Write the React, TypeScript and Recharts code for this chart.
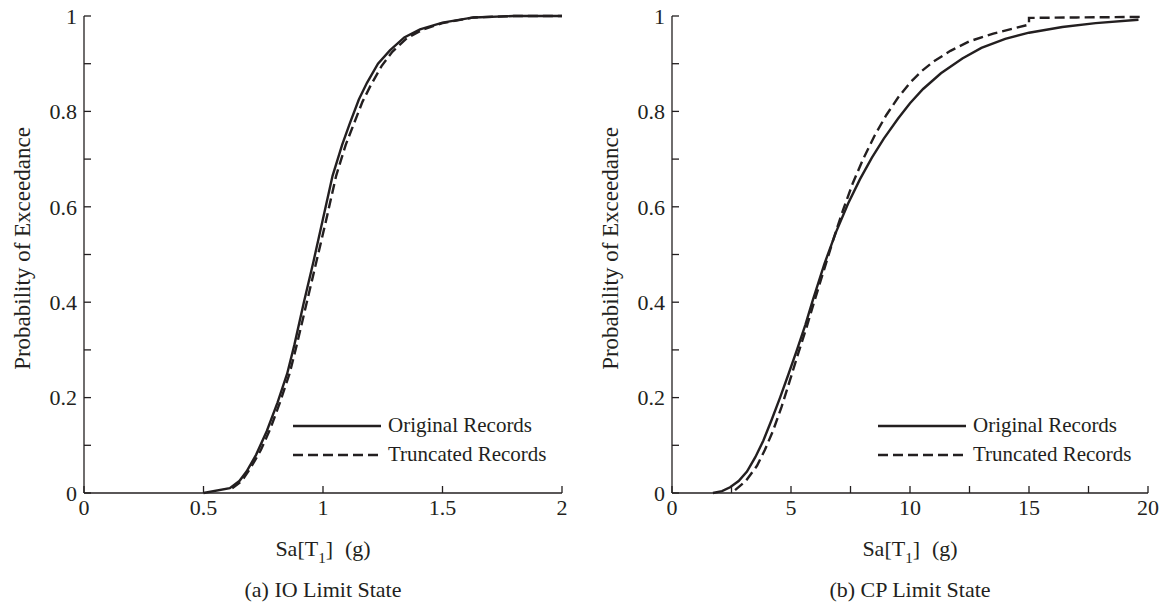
import { LineChart, Line, XAxis, YAxis, Legend } from "recharts";

type Pt = { sa: number; p: number };

// (a) IO limit state, Sa in g
const ioOriginal: Pt[] = [
  { sa: 0.5, p: 0 }, { sa: 0.61, p: 0.01 }, { sa: 0.65, p: 0.025 }, { sa: 0.68, p: 0.045 },
  { sa: 0.72, p: 0.08 }, { sa: 0.765, p: 0.13 }, { sa: 0.81, p: 0.19 }, { sa: 0.85, p: 0.25 },
  { sa: 0.88, p: 0.31 }, { sa: 0.92, p: 0.4 }, { sa: 0.96, p: 0.485 }, { sa: 1.0, p: 0.575 },
  { sa: 1.04, p: 0.665 }, { sa: 1.08, p: 0.73 }, { sa: 1.113, p: 0.776 }, { sa: 1.15, p: 0.825 },
  { sa: 1.184, p: 0.86 }, { sa: 1.23, p: 0.9 }, { sa: 1.28, p: 0.928 }, { sa: 1.34, p: 0.955 },
  { sa: 1.406, p: 0.972 }, { sa: 1.5, p: 0.986 }, { sa: 1.63, p: 0.997 }, { sa: 1.8, p: 1 },
  { sa: 2.0, p: 1 },
];
const ioTruncated: Pt[] = [
  { sa: 0.62, p: 0.01 }, { sa: 0.66, p: 0.025 }, { sa: 0.7, p: 0.055 }, { sa: 0.74, p: 0.09 },
  { sa: 0.78, p: 0.135 }, { sa: 0.82, p: 0.19 }, { sa: 0.86, p: 0.25 }, { sa: 0.89, p: 0.31 },
  { sa: 0.93, p: 0.395 }, { sa: 0.97, p: 0.48 }, { sa: 1.01, p: 0.565 }, { sa: 1.055, p: 0.665 },
  { sa: 1.095, p: 0.73 }, { sa: 1.13, p: 0.775 }, { sa: 1.165, p: 0.82 }, { sa: 1.2, p: 0.855 },
  { sa: 1.245, p: 0.895 }, { sa: 1.29, p: 0.925 }, { sa: 1.35, p: 0.953 }, { sa: 1.42, p: 0.972 },
  { sa: 1.5, p: 0.985 }, { sa: 1.63, p: 0.997 }, { sa: 1.8, p: 1 }, { sa: 2.0, p: 1 },
];

// (b) CP limit state
const cpOriginal: Pt[] = [
  { sa: 1.72, p: 0 }, { sa: 2.1, p: 0.004 }, { sa: 2.44, p: 0.012 }, { sa: 2.8, p: 0.025 },
  { sa: 3.15, p: 0.045 }, { sa: 3.5, p: 0.075 }, { sa: 3.84, p: 0.11 }, { sa: 4.2, p: 0.155 },
  { sa: 4.54, p: 0.2 }, { sa: 4.9, p: 0.25 }, { sa: 5.25, p: 0.3 }, { sa: 5.6, p: 0.352 },
  { sa: 5.92, p: 0.405 }, { sa: 6.4, p: 0.48 }, { sa: 6.9, p: 0.548 }, { sa: 7.4, p: 0.607 },
  { sa: 7.9, p: 0.658 }, { sa: 8.4, p: 0.703 }, { sa: 8.9, p: 0.743 }, { sa: 9.5, p: 0.785 },
  { sa: 10.0, p: 0.817 }, { sa: 10.55, p: 0.847 }, { sa: 11.3, p: 0.88 }, { sa: 12.2, p: 0.911 },
  { sa: 13.0, p: 0.933 }, { sa: 14.0, p: 0.952 }, { sa: 15.0, p: 0.965 }, { sa: 16.4, p: 0.977 },
  { sa: 17.8, p: 0.985 }, { sa: 19.6, p: 0.992 },
];
const cpTruncated: Pt[] = [
  { sa: 2.65, p: 0.006 }, { sa: 3.1, p: 0.025 }, { sa: 3.57, p: 0.057 }, { sa: 3.9, p: 0.09 },
  { sa: 4.24, p: 0.13 }, { sa: 4.6, p: 0.18 }, { sa: 4.96, p: 0.237 }, { sa: 5.3, p: 0.292 },
  { sa: 5.67, p: 0.35 }, { sa: 6.0, p: 0.405 }, { sa: 6.4, p: 0.47 }, { sa: 6.8, p: 0.535 },
  { sa: 7.2, p: 0.595 }, { sa: 7.6, p: 0.65 }, { sa: 8.03, p: 0.7 }, { sa: 8.5, p: 0.748 },
  { sa: 9.0, p: 0.792 }, { sa: 9.5, p: 0.829 }, { sa: 10.0, p: 0.86 }, { sa: 10.5, p: 0.885 },
  { sa: 11.0, p: 0.905 }, { sa: 11.7, p: 0.927 }, { sa: 12.5, p: 0.947 }, { sa: 13.5, p: 0.963 },
  { sa: 15.0, p: 0.982 }, { sa: 15.0, p: 0.996 }, { sa: 17.0, p: 0.997 }, { sa: 19.6, p: 0.998 },
  { sa: 19.6, p: 0.99 },
];

const seriesNames = ["Original Records", "Truncated Records"];
const pTicks = [0, 0.1, 0.2, 0.3, 0.4, 0.5, 0.6, 0.7, 0.8, 0.9, 1];
const pLabels = [0, 0.2, 0.4, 0.6, 0.8, 1];
const ioTicks = [0, 0.5, 1, 1.5, 2];
const ioLabels = [0, 0.5, 1, 1.5, 2];
const cpTicks = [0, 2.5, 5, 7.5, 10, 12.5, 15, 17.5, 20];
const cpLabels = [0, 5, 10, 15, 20];

const FONT = "'Liberation Serif', 'Times New Roman', serif";
const INK = "#231f20";
const DASH = "10 5";

const XLabel = ({ viewBox, caption }: any) => {
  const cx = viewBox.x + viewBox.width / 2;
  const y = viewBox.y;
  return (
    <g fontFamily={FONT} fontSize={22} fill={INK}>
      <text x={cx} y={y + 63} textAnchor="middle">
        Sa[T<tspan fontSize={15} dy={7}>1</tspan>
        <tspan dy={-7}>]</tspan>
        <tspan dx={12}>(g)</tspan>
      </text>
      <text x={cx} y={y + 104} textAnchor="middle">
        {caption}
      </text>
    </g>
  );
};

const YLabel = ({ viewBox }: any) => {
  const cx = 22;
  const cy = viewBox.y + viewBox.height / 2 - 6;
  return (
    <text
      x={cx}
      y={cy}
      transform={`rotate(-90, ${cx}, ${cy})`}
      textAnchor="middle"
      dominantBaseline="central"
      fontFamily={FONT}
      fontSize={23}
      fill={INK}
    >
      Probability of Exceedance
    </text>
  );
};

const LegendBox = () => (
  <div style={{ fontFamily: FONT, fontSize: 21, color: INK }}>
    {seriesNames.map((name, i) => (
      <div key={name} style={{ display: "flex", alignItems: "center", height: 29 }}>
        <svg width={88} height={10} style={{ marginRight: 7 }}>
          <line x1={0} y1={5} x2={88} y2={5} stroke={INK} strokeWidth={2.4} strokeDasharray={i === 1 ? DASH : undefined} />
        </svg>
        <span style={{ whiteSpace: "nowrap" }}>{name}</span>
      </div>
    ))}
  </div>
);

type PanelProps = {
  left: number;
  width: number;
  rightMargin: number;
  xDomain: [number, number];
  xTicks: number[];
  xLabels: number[];
  original: Pt[];
  truncated: Pt[];
  caption: string;
  legendLeft: number;
};

const Panel = (props: PanelProps) => {
  const { left, width, rightMargin, xDomain, xTicks, xLabels, original, truncated, caption, legendLeft } = props;
  const tickStyle = { fill: INK, fontSize: 22, fontFamily: FONT };
  return (
    <div style={{ position: "absolute", left, top: 0 }}>
      <LineChart width={width} height={606} margin={{ top: 16, right: rightMargin, bottom: 0, left: 0 }}>
        <XAxis
          xAxisId="b"
          type="number"
          dataKey="sa"
          domain={xDomain}
          ticks={xTicks}
          interval={0}
          tickFormatter={(v: number) => (xLabels.includes(v) ? String(v) : "")}
          height={113}
          tickSize={-7}
          tickMargin={13}
          stroke={INK}
          strokeWidth={1.3}
          tick={tickStyle}
          label={<XLabel caption={caption} />}
        />
        <XAxis
          xAxisId="t"
          orientation="top"
          type="number"
          dataKey="sa"
          domain={xDomain}
          ticks={xTicks}
          interval={0}
          tick={false}
          height={0}
          tickSize={-7}
          stroke={INK}
          strokeWidth={1.3}
        />
        <YAxis
          yAxisId="l"
          type="number"
          domain={[0, 1]}
          ticks={pTicks}
          interval={0}
          tickFormatter={(v: number) => (pLabels.includes(v) ? String(v) : "")}
          width={84}
          tickSize={-7}
          tickMargin={14}
          stroke={INK}
          strokeWidth={1.3}
          tick={tickStyle}
          label={<YLabel />}
        />
        <YAxis
          yAxisId="r"
          orientation="right"
          type="number"
          domain={[0, 1]}
          ticks={pTicks}
          interval={0}
          tick={false}
          width={0}
          tickSize={-7}
          stroke={INK}
          strokeWidth={1.3}
        />
        <Legend
          layout="vertical"
          align="center"
          verticalAlign="middle"
          wrapperStyle={{ left: legendLeft, top: 411, width: 280 }}
          content={<LegendBox />}
        />
        <Line
          xAxisId="b"
          yAxisId="l"
          data={original}
          dataKey="p"
          name={seriesNames[0]}
          type="linear"
          stroke={INK}
          strokeWidth={2.4}
          dot={false}
          isAnimationActive={false}
        />
        <Line
          xAxisId="b"
          yAxisId="l"
          data={truncated}
          dataKey="p"
          name={seriesNames[1]}
          type="linear"
          stroke={INK}
          strokeWidth={2.4}
          strokeDasharray={DASH}
          dot={false}
          isAnimationActive={false}
        />
      </LineChart>
    </div>
  );
};

export default function App() {
  return (
    <div style={{ position: "absolute", left: 0, top: 0, width: 1163, height: 606, background: "#fff" }}>
      <Panel
        left={0}
        width={580}
        rightMargin={18}
        xDomain={[0, 2]}
        xTicks={ioTicks}
        xLabels={ioLabels}
        original={ioOriginal}
        truncated={ioTruncated}
        caption="(a) IO Limit State"
        legendLeft={293}
      />
      <Panel
        left={588}
        width={575}
        rightMargin={15}
        xDomain={[0, 20]}
        xTicks={cpTicks}
        xLabels={cpLabels}
        original={cpOriginal}
        truncated={cpTruncated}
        caption="(b) CP Limit State"
        legendLeft={290}
      />
    </div>
  );
}
